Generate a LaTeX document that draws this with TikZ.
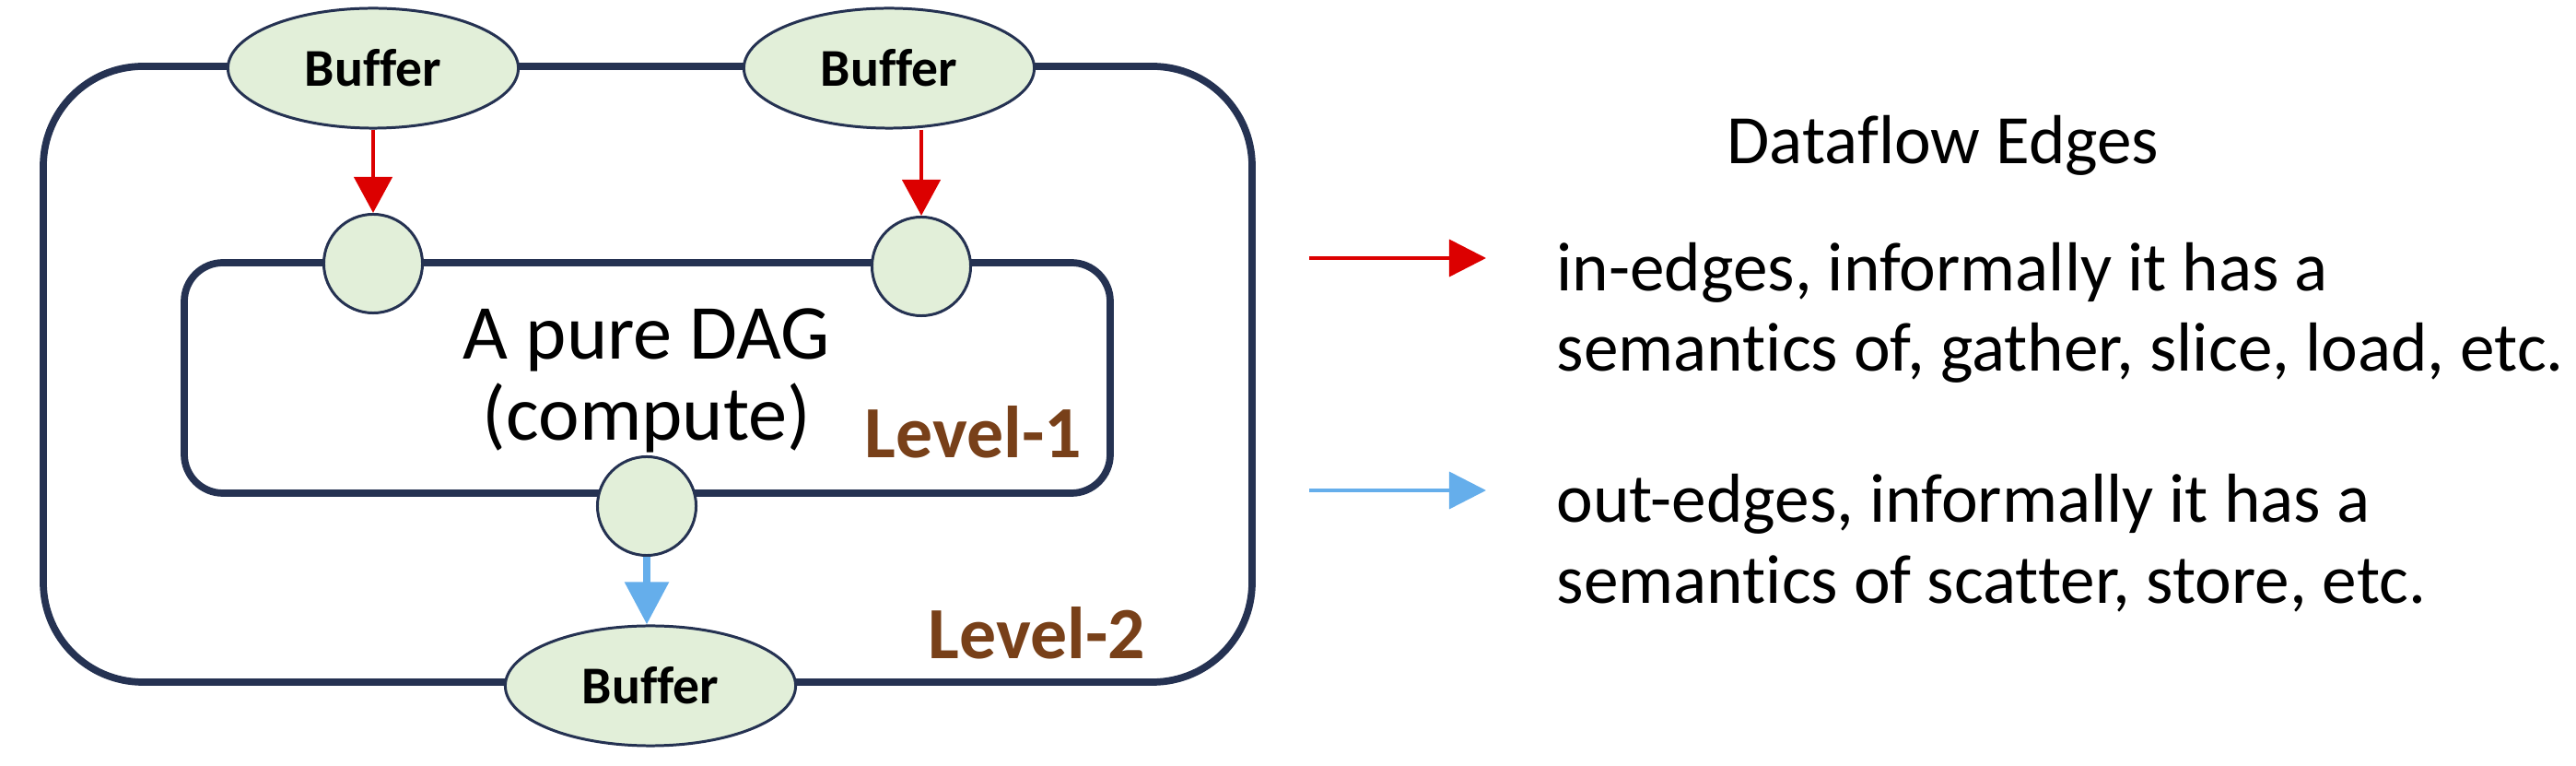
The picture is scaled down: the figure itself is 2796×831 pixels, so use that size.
\documentclass[tikz,border=0pt]{standalone}
\usepackage{fontspec}
\setmainfont{Carlito}[Ligatures=NoCommon]
\usetikzlibrary{shapes.geometric,arrows.meta}
\definecolor{navy}{RGB}{37,50,82}
\definecolor{bufgreen}{RGB}{226,239,217}
\definecolor{inred}{RGB}{220,0,0}
\definecolor{outblue}{RGB}{101,174,235}
\definecolor{lvlbrown}{RGB}{120,64,25}
\tikzset{
  buffer/.style={ellipse, draw=navy, fill=bufgreen, line width=0.85pt,
    minimum width=3.15cm, minimum height=1.30cm, inner sep=0pt,
    font=\fontsize{16.4pt}{19pt}\selectfont\bfseries},
  port/.style={circle, draw=navy, fill=bufgreen, line width=0.85pt,
    minimum size=1.07cm, inner sep=0pt},
  levelbox/.style={draw=navy, line width=2.2pt},
  inarrow/.style={draw=inred, line width=1.3pt,
    -{Triangle[length=0.39cm,width=0.41cm]}},
  outarrow/.style={draw=outblue, line width=2.5pt,
    -{Triangle[length=0.46cm,width=0.46cm]}},
  legin/.style={draw=inred, line width=1pt,
    -{Triangle[length=0.40cm,width=0.40cm]}},
  legout/.style={draw=outblue, line width=1pt,
    -{Triangle[length=0.40cm,width=0.40cm]}},
  legtext/.style={anchor=base west, inner sep=0pt,
    font=\fontsize{21.4pt}{25pt}\selectfont},
  lvl/.style={text=lvlbrown, inner sep=0pt, anchor=base west,
    font=\fontsize{22.7pt}{26pt}\selectfont\bfseries},
}
\begin{document}
\begin{tikzpicture}[x=0.01cm,y=-0.01cm]
\useasboundingbox (0,0) rectangle (2796,831);
% level boxes
\draw[levelbox, rounded corners=1.08cm] (47,72) rectangle (1359,740);
\draw[levelbox, rounded corners=0.42cm] (200,285) rectangle (1205,535);
% buffers and ports
\node[buffer] (b1) at (405,74) {Buffer};
\node[buffer] (b2) at (965,74) {Buffer};
\node[buffer] (b3) at (706,744) {Buffer};
\node[port] (p1) at (405,286) {};
\node[port] (p2) at (1000,289) {};
\node[port] (p3) at (702,549) {};
% edges
\draw[inarrow] (b1.south) -- (p1.north);
\draw[inarrow] (p2.north |- b2.south) -- (p2.north);
\draw[outarrow] (p3.south) -- (b3.north -| p3.south);
% labels
\node[align=center, inner sep=0pt, font=\fontsize{24pt}{25pt}\selectfont] (dag) at (702,413)
  {A pure DAG\\(compute)};
\node[lvl] (l1) at (938,497) {Level-1};
\node[lvl] (l2) at (1007,715) {Level-2};
% legend
\node[anchor=base, inner sep=0pt, font=\fontsize{21.4pt}{25pt}\selectfont] (title) at (2109,178) {Dataflow Edges};
\coordinate (ra) at (1421,280);
\coordinate (rb) at (1613,280);
\draw[legin] (ra) -- (rb);
\coordinate (ba) at (1421,532);
\coordinate (bb) at (1613,532);
\draw[legout] (ba) -- (bb);
\node[legtext] (t1) at (1689,316) {in-edges, informally it has a};
\node[legtext] (t2) at (1689,403) {semantics of, gather, slice, load, etc.};
\node[legtext] (t3) at (1689,567) {out-edges, informally it has a};
\node[legtext] (t4) at (1689,655) {semantics of scatter, store, etc.};
\end{tikzpicture}
\end{document}
